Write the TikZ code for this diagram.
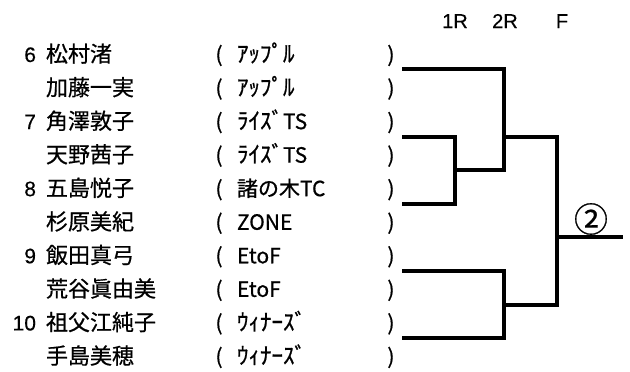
\documentclass[tikz,border=0pt]{standalone}
\usepackage{fontspec}
\setmainfont{Noto Sans CJK JP}[FakeBold=0.6]
\newfontfamily\latinf{Liberation Sans}[FakeBold=0.3]
\newfontfamily\kanaf{Noto Sans CJK JP}[FakeBold=0.8]
\begin{document}
\begin{tikzpicture}[x=1pt,y=-1pt,
  txt/.style={inner sep=0pt,outer sep=0pt,font=\fontsize{21}{21}\selectfont},
  num/.style={txt,anchor=base east,font=\latinf\fontsize{21}{21}\selectfont},
  nm/.style={txt,anchor=base west,font=\fontsize{22}{22}\selectfont},
  par/.style={txt,anchor=base},
  club/.style={txt,anchor=base west},
  hd/.style={txt,anchor=base,font=\latinf\fontsize{20}{20}\selectfont},
  br/.style={line width=3.2pt,line cap=rect,line join=miter}]
\useasboundingbox (0,0) rectangle (630,372);
\newcommand{\hk}[1]{{\kanaf\fontsize{23}{23}\selectfont #1}}
% rows
\foreach \i/\n/\name/\club in {
  0/6/松村渚/\hk{ｱｯﾌﾟﾙ},
  1//加藤一実/\hk{ｱｯﾌﾟﾙ},
  2/7/角澤敦子/\hk{ﾗｲｽﾞ}TS,
  3//天野茜子/\hk{ﾗｲｽﾞ}TS,
  4/8/五島悦子/諸の木TC,
  5//杉原美紀/ZONE,
  6/9/飯田真弓/EtoF,
  7//荒谷眞由美/EtoF,
  8/10/祖父江純子/\hk{ｳｨﾅｰｽﾞ},
  9//手島美穂/\hk{ｳｨﾅｰｽﾞ}}{
  \pgfmathsetmacro{\yy}{62+33.55*\i}
  \node[num] (n\i) at (36,\yy) {\n};
  \node[nm] (p\i) at (46,\yy) {\name};
  \node[par] (l\i) at (219,\yy) {(};
  \node[club] (c\i) at (237,\yy) {\club};
  \node[par] (r\i) at (391,\yy) {)};
}
% header
\node[hd] (h1) at (455,28) {1R};
\node[hd] (h2) at (505,28) {2R};
\node[hd] (h3) at (562,28) {F};
% bracket points
\coordinate (a1) at (404,69);
\coordinate (a2) at (504,69);
\coordinate (a3) at (504,170);
\coordinate (b1) at (404,137);
\coordinate (b2) at (455,137);
\coordinate (b3) at (455,204);
\coordinate (b4) at (404,204);
\coordinate (b5) at (455,170);
\coordinate (s1) at (504,137);
\coordinate (s2) at (557,137);
\coordinate (s3) at (557,305);
\coordinate (s4) at (504,305);
\coordinate (d1) at (404,271);
\coordinate (d2) at (504,271);
\coordinate (d3) at (504,338);
\coordinate (d4) at (404,338);
\coordinate (f1) at (557,237);
\coordinate (f2) at (621,237);
\draw[br] (a1) -- (a2) -- (a3);
\draw[br] (b1) -- (b2) -- (b3) -- (b4);
\draw[br] (b5) -- (a3);
\draw[br] (s1) -- (s2) -- (s3) -- (s4);
\draw[br] (d1) -- (d2) -- (d3) -- (d4);
\draw[br] (f1) -- (f2);
\node[txt,font=\fontsize{34}{34}\selectfont] (win) at (591,219) {②};
\end{tikzpicture}
\end{document}
